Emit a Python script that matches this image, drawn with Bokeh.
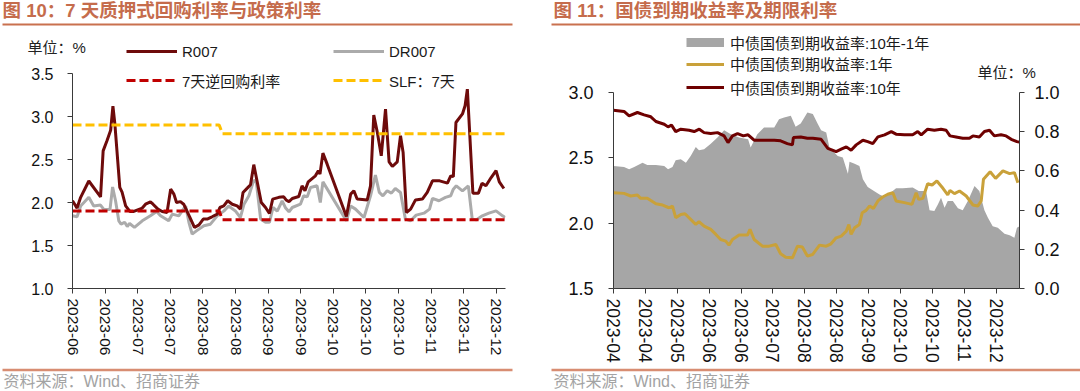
from bokeh.plotting import figure
from bokeh.models import (Range1d, LinearAxis, FixedTicker, PrintfTickFormatter,
                          Legend, LegendItem, Label, BoxAnnotation)
from bokeh.layouts import row, column
from bokeh.embed import file_html
from bokeh.resources import INLINE

# ---------------- data: chart 10 (x = trading-day index) ----------------
left_tick_labels = ["2023-06", "2023-06", "2023-07", "2023-07", "2023-08", "2023-08",
                    "2023-09", "2023-09", "2023-10", "2023-10", "2023-10", "2023-11",
                    "2023-11", "2023-12"]
left_x_end = 132.8

r007_x = [0, 1.4, 2.5, 5.0, 8.6, 9.4, 10.6, 11.7, 12.4, 13.0, 14.5, 15.2, 16.3, 17.6, 18.8,
          21.4, 22.4, 23.9, 24.7, 26.2, 27.5, 29.0, 30.1, 31.1, 31.9, 33.1, 34.1, 36.0, 37.4,
          38.8, 40.1, 41.3, 42.8, 44.4, 45.2, 46.4, 47.6, 49.0, 50.5, 51.5, 52.3, 53.6, 54.6,
          55.6, 56.6, 57.9, 59.2, 60.4, 61.4, 63.3, 64.8, 65.5, 66.4, 67.4, 69.4, 70.4, 71.3,
          72.3, 74.5, 75.4, 75.9, 76.8, 78.1, 84.0, 85.3, 86.3, 87.3, 90.4, 91.4, 92.4, 93.5,
          94.7, 96.0, 97.1, 98.1, 99.6, 100.6, 101.4, 102.4, 103.7, 105.2, 107.3, 108.8, 110.4,
          112.6, 115.0, 116.0, 116.8, 117.6, 119.6, 120.4, 121.1, 122.8, 124.5, 125.6, 126.8,
          128.4, 129.9, 130.9, 132.3]
r007 = [2.02, 1.935, 2.06, 2.25, 2.066, 2.60, 2.72, 2.84, 3.12, 2.91, 2.175, 2.12, 1.96, 1.896,
        1.896, 1.935, 1.98, 2.008, 1.98, 1.923, 1.896, 1.884, 2.155, 2.097, 2.0, 2.01, 1.98,
        1.826, 1.71, 1.74, 1.807, 1.807, 1.834, 1.865, 1.942, 1.96, 2.02, 1.98, 1.96, 1.923,
        2.117, 2.167, 2.206, 2.44, 2.25, 2.0, 1.942, 1.872, 2.039, 2.06, 2.066, 2.03, 2.01,
        2.047, 2.07, 2.194, 2.136, 2.24, 2.31, 2.37, 2.33, 2.574, 2.446, 1.838, 2.097, 2.136,
        2.04, 2.03, 2.194, 3.016, 2.814, 2.543, 3.086, 2.473, 2.419, 2.473, 2.776, 2.582,
        1.884, 1.923, 2.03, 2.04, 2.117, 2.252, 2.252, 2.225, 2.31, 2.30, 2.93, 3.03, 3.125,
        3.318, 2.109, 2.109, 2.225, 2.194, 2.29, 2.37, 2.24, 2.163]

dr007_x = [0, 1.4, 2.5, 5.0, 6.5, 8.6, 9.6, 11.5, 12.3, 13.2, 14.2, 14.9, 16.0, 16.8, 17.5,
           19.0, 21.4, 23.9, 25.8, 27.0, 29.5, 30.6, 32.6, 34.7, 35.7, 36.7, 38.0, 40.3, 42.3,
           44.4, 46.4, 47.9, 50.0, 51.5, 52.6, 54.1, 55.6, 56.4, 57.7, 59.2, 60.4, 61.5, 62.8,
           64.3, 65.3, 66.4, 67.4, 69.9, 70.9, 72.0, 73.0, 75.0, 75.6, 76.0, 76.8, 84.0, 85.3,
           86.8, 89.4, 91.4, 92.9, 94.1, 95.2, 96.5, 97.8, 99.0, 100.6, 102.1, 103.7, 105.4,
           107.8, 109.5, 110.4, 112.4, 114.4, 116.0, 116.8, 117.7, 119.6, 121.4, 122.6, 123.9,
           125.7, 127.7, 129.9, 131.9, 132.7]
dr007 = [1.845, 1.834, 1.96, 2.06, 1.96, 1.97, 1.92, 1.92, 2.18, 2.02, 1.787, 1.748, 1.77,
         1.72, 1.756, 1.71, 1.787, 1.845, 1.896, 1.845, 1.787, 1.865, 1.845, 1.96, 1.77, 1.632,
         1.67, 1.73, 1.748, 1.845, 1.90, 1.96, 1.90, 1.826, 1.98, 2.078, 2.26, 2.23, 1.807,
         1.77, 1.77, 1.942, 1.90, 2.02, 1.94, 1.892, 1.942, 1.98, 2.078, 2.066, 2.175, 2.194,
         2.078, 2.0, 2.24, 1.787, 1.96, 1.923, 1.826, 2.078, 2.318, 2.117, 2.078, 2.136, 2.109,
         2.163, 2.117, 1.806, 1.787, 1.853, 1.876, 1.923, 2.047, 2.02, 2.059, 2.078, 2.155,
         2.194, 2.136, 2.194, 1.806, 1.80, 1.845, 1.876, 1.903, 1.845, 1.826]

policy_x = [0, 45, 46, 132.8]
reverse_repo_7d = [1.9, 1.9, 1.8, 1.8]
slf_7d = [2.9, 2.9, 2.8, 2.8]

# ---------------- data: chart 11 ----------------
right_tick_labels = ["2023-04", "2023-04", "2023-05", "2023-06", "2023-06", "2023-07",
                     "2023-08", "2023-08", "2023-09", "2023-10", "2023-10", "2023-11",
                     "2023-12"]
right_x_end = 127.3

y10_x = [0, 3.3, 4.9, 7.5, 9.6, 11.7, 13.3, 15.9, 17.1, 18.2, 19.5, 21.1, 23.7, 25.3, 26.9,
         28.4, 30.5, 32.6, 34.7, 35.9, 37.3, 38.9, 40.7, 42.2, 44.1, 47.2, 50.4, 52.4, 54.5,
         56.1, 56.4, 58.7, 60.8, 62.5, 65.1, 67.2, 69.8, 71.4, 73.0, 74.5, 76.1, 78.2, 79.7,
         81.3, 82.9, 85.0, 87.1, 88.6, 91.2, 93.8, 95.4, 96.5, 98.5, 100.6, 102.7, 104.3,
         105.5, 107.4, 109.5, 111.6, 112.7, 114.7, 116.3, 117.9, 119.4, 121.5, 123.1, 124.7,
         126.5, 127.2]
y10 = [2.865, 2.855, 2.821, 2.847, 2.829, 2.814, 2.778, 2.757, 2.737, 2.75, 2.701, 2.719,
       2.711, 2.701, 2.719, 2.693, 2.686, 2.693, 2.668, 2.617, 2.668, 2.686, 2.668, 2.676,
       2.635, 2.635, 2.635, 2.63, 2.609, 2.599, 2.655, 2.66, 2.65, 2.65, 2.642, 2.573, 2.548,
       2.566, 2.584, 2.558, 2.599, 2.635, 2.624, 2.609, 2.66, 2.676, 2.701, 2.681, 2.676,
       2.676, 2.701, 2.676, 2.719, 2.711, 2.719, 2.711, 2.668, 2.66, 2.65, 2.65, 2.668, 2.66,
       2.701, 2.711, 2.668, 2.676, 2.668, 2.642, 2.624, 2.62]

y1_x = [0, 3.3, 5.4, 7.5, 8.5, 10.6, 13.3, 15.4, 17.4, 18.5, 19.5, 21.1, 22.4, 24.2, 25.8,
        26.8, 28.4, 30.5, 32.1, 33.6, 35.2, 36.2, 37.3, 39.4, 42.0, 42.8, 44.1, 46.7, 48.8,
        50.9, 52.4, 54.0, 56.1, 57.7, 59.2, 60.8, 62.4, 64.6, 66.7, 68.2, 69.8, 71.4, 73.0,
        73.8, 74.5, 75.6, 77.1, 78.0, 79.2, 80.3, 81.5, 82.9, 84.4, 86.0, 87.6, 88.6, 91.2,
        93.6, 94.9, 95.7, 97.0, 98.5, 99.9, 101.4, 103.3, 104.8, 105.5, 106.9, 108.5, 110.6,
        112.7, 114.2, 115.3, 116.0, 118.1, 119.8, 122.1, 124.2, 125.7, 126.8]
y1 = [2.233, 2.228, 2.208, 2.215, 2.19, 2.19, 2.149, 2.139, 2.118, 2.131, 2.042, 2.067, 2.072,
      2.029, 1.99, 2.011, 1.978, 1.952, 1.914, 1.875, 1.863, 1.832, 1.875, 1.909, 1.909,
      1.952, 1.875, 1.824, 1.824, 1.837, 1.766, 1.74, 1.735, 1.824, 1.817, 1.748, 1.76,
      1.832, 1.824, 1.842, 1.888, 1.901, 1.939, 1.99, 1.914, 1.965, 1.99, 2.08, 2.098, 2.131,
      2.113, 2.17, 2.20, 2.221, 2.233, 2.17, 2.157, 2.144, 2.233, 2.182, 2.19, 2.302, 2.292,
      2.323, 2.267, 2.216, 2.251, 2.226, 2.246, 2.208, 2.139, 2.131, 2.17, 2.336, 2.394,
      2.343, 2.40, 2.379, 2.387, 2.31]

spread_x = [0, 3.3, 4.9, 6.5, 9.1, 10.6, 13.3, 15.9, 17.1, 18.5, 19.5, 21.1, 22.7, 24.2, 25.8,
            26.8, 28.4, 30.5, 32.6, 34.7, 36.8, 39.4, 42.2, 43.0, 45.1, 47.2, 50.4, 51.9, 53.5,
            55.6, 57.1, 58.7, 60.8, 62.5, 64.1, 65.1, 66.7, 67.7, 70.3, 71.9, 73.5, 74.0, 75.6,
            77.1, 78.2, 79.7, 81.3, 83.4, 85.0, 86.5, 88.6, 90.7, 93.8, 95.7, 98.0, 99.1, 100.6,
            101.7, 102.7, 103.8, 104.8, 106.4, 108.0, 109.5, 111.1, 113.2, 114.7, 116.3, 117.4,
            118.9, 120.5, 122.6, 124.2, 125.7, 126.5, 127.3]
spread = [0.625, 0.620, 0.608, 0.620, 0.642, 0.630, 0.630, 0.625, 0.608, 0.620, 0.654, 0.659,
          0.642, 0.676, 0.722, 0.705, 0.710, 0.739, 0.770, 0.808, 0.787, 0.770, 0.762, 0.719,
          0.787, 0.821, 0.821, 0.864, 0.872, 0.881, 0.825, 0.842, 0.898, 0.89, 0.838, 0.808,
          0.796, 0.719, 0.676, 0.668, 0.586, 0.647, 0.637, 0.625, 0.557, 0.518, 0.501, 0.480,
          0.467, 0.484, 0.511, 0.511, 0.515, 0.497, 0.497, 0.399, 0.395, 0.429, 0.463, 0.412,
          0.446, 0.446, 0.409, 0.399, 0.446, 0.523, 0.497, 0.399, 0.361, 0.318, 0.310, 0.279,
          0.272, 0.259, 0.310, 0.318]

# ---------------- styling ----------------
MIX = "Liberation Sans, Noto Sans CJK SC"
LAT = "Liberation Sans"
TITLE_COLOR = "#C56C4C"
RULE_TOP = "#C9714F"
RULE_BOTTOM = "#D88D72"
AXIS_COLOR = "#3A3A3A"
C_R007, C_DR007, C_REPO, C_SLF = "#6E0B0B", "#ABABAB", "#C00000", "#FFC000"
C_SPREAD, C_1Y, C_10Y = "#A6A6A6", "#C9A13A", "#6E0000"
W, H = 1080, 391


def style_axis(ax, size, standoff):
    ax.axis_line_color = AXIS_COLOR
    ax.axis_line_width = 1
    ax.major_tick_line_color = AXIS_COLOR
    ax.major_tick_line_width = 1
    ax.major_tick_out = 5
    ax.major_tick_in = 0
    ax.minor_tick_line_color = None
    ax.major_label_text_font = LAT
    ax.major_label_text_font_size = size
    ax.major_label_text_color = "#111111"
    ax.major_label_standoff = standoff


def x_axis_ticks(ax, labels):
    pos = [10 * k for k in range(len(labels))]
    ax.ticker = FixedTicker(ticks=pos)
    ax.major_label_overrides = {p: lab for p, lab in zip(pos, labels)}
    ax.major_label_orientation = "vertical"


# ---------------- chart 10 ----------------
# frame: x 72..505, y 73..288
p1 = figure(width=540, height=H, x_range=Range1d(0, left_x_end), y_range=Range1d(1.0, 3.5),
            output_backend="svg", toolbar_location=None, min_border_left=72,
            min_border_right=35, min_border_top=73, min_border_bottom=103,
            outline_line_color=None)
p1.title.visible = False
p1.grid.visible = False
style_axis(p1.xaxis[0], "15.5px", 5)
style_axis(p1.yaxis[0], "16px", 14)
x_axis_ticks(p1.xaxis[0], left_tick_labels)
p1.yaxis[0].ticker = FixedTicker(ticks=[1.0, 1.5, 2.0, 2.5, 3.0, 3.5])
p1.yaxis[0].formatter = PrintfTickFormatter(format="%.1f")

p1.line(dr007_x, dr007, line_color=C_DR007, line_width=3)
p1.line(r007_x, r007, line_color=C_R007, line_width=3)
p1.line(policy_x, reverse_repo_7d, line_color=C_REPO, line_width=3, line_dash="9 4")
p1.line(policy_x, slf_7d, line_color=C_SLF, line_width=3, line_dash="9 4")

# ---------------- chart 11 ----------------
# frame: x 613..1019, y 73..288 ; axes bounded so the data area starts at y=92
y_top_left = 3.0 + 19 / (196 / 1.5)
y_top_right = 1.0 + 19 / 196
p2 = figure(width=540, height=H, x_range=Range1d(0, right_x_end),
            y_range=Range1d(1.5, y_top_left),
            output_backend="svg", toolbar_location=None, min_border_left=73,
            min_border_right=61, min_border_top=73, min_border_bottom=103,
            outline_line_color=None)
p2.title.visible = False
p2.grid.visible = False
p2.extra_y_ranges = {"spread": Range1d(0.0, y_top_right)}
right_axis = LinearAxis(y_range_name="spread", bounds=(0.0, 1.0))
p2.add_layout(right_axis, "right")
p2.yaxis[0].bounds = (1.5, 3.0)
style_axis(p2.xaxis[0], "17.5px", 5)
style_axis(p2.yaxis[0], "18px", 15)
style_axis(right_axis, "18px", 10)
x_axis_ticks(p2.xaxis[0], right_tick_labels)
p2.yaxis[0].ticker = FixedTicker(ticks=[1.5, 2.0, 2.5, 3.0])
p2.yaxis[0].formatter = PrintfTickFormatter(format="%.1f")
right_axis.ticker = FixedTicker(ticks=[0.0, 0.2, 0.4, 0.6, 0.8, 1.0])
right_axis.formatter = PrintfTickFormatter(format="%.1f")

p2.varea(x=spread_x, y1=0, y2=spread, y_range_name="spread", fill_color=C_SPREAD)
p2.line(y1_x, y1, line_color=C_1Y, line_width=3)
p2.line(y10_x, y10, line_color=C_10Y, line_width=3)

# ---------------- overlay: titles, legends, notes (page-pixel coordinates) ----------------
deco = figure(width=W, height=H, x_range=Range1d(0, W), y_range=Range1d(H, 0),
              output_backend="svg", toolbar_location=None, min_border=0,
              x_axis_location=None, y_axis_location=None, outline_line_color=None,
              background_fill_alpha=0, border_fill_alpha=0,
              styles={"margin-top": "-391px"})
deco.title.visible = False
deco.grid.visible = False
# legend sample renderers: same series, mapped to a range that lies outside the canvas
deco.extra_x_ranges = {"offscreen": Range1d(100000, 100001)}


def add_text(text, x, y, size, color, style="normal"):
    deco.add_layout(Label(x=x, y=y, text=text, text_font=MIX, text_font_size=size,
                          text_color=color, text_font_style=style,
                          text_baseline="middle", text_align="left"))


def add_rule(left, right, y, color, thick):
    deco.add_layout(BoxAnnotation(left=left, right=right, top=y - thick / 2,
                                  bottom=y + thick / 2, fill_color=color, fill_alpha=1,
                                  line_color=None))


def add_key(label, xs, ys, x, yc, glyph_w, standoff, **line_kw):
    sample = deco.line(x=xs, y=ys, x_range_name="offscreen", **line_kw)
    leg = Legend(items=[LegendItem(label=label, renderers=[sample])],
                 location=(x, H - yc - 12), orientation="horizontal",
                 padding=0, margin=0, spacing=0, border_line_color=None,
                 background_fill_alpha=0, glyph_width=glyph_w, glyph_height=24,
                 label_standoff=standoff, label_height=24, label_text_font=MIX,
                 label_text_font_size="15px", label_text_color="#1a1a1a",
                 label_text_baseline="middle")
    deco.add_layout(leg)


# chart 10 header / legend / footer
add_text("图 10：7 天质押式回购利率与政策利率", 2, 10, "18.5px", TITLE_COLOR, "bold")
add_rule(2, 512, 24, RULE_TOP, 2)
add_text("单位：%", 27, 47, "15px", "#222222")
add_key("R007", r007_x, r007, 126, 51, 51, 5, line_color=C_R007, line_width=3)
add_key("DR007", dr007_x, dr007, 333, 51, 51, 5, line_color=C_DR007, line_width=3)
add_key("7天逆回购利率", policy_x, reverse_repo_7d, 126, 80, 51, 5,
        line_color=C_REPO, line_width=3, line_dash="9 4")
add_key("SLF：7天", policy_x, slf_7d, 333, 80, 51, 5,
        line_color=C_SLF, line_width=3, line_dash="9 4")
add_rule(2, 512, 369.5, RULE_BOTTOM, 2.5)
add_text("资料来源：Wind、招商证券", 3, 381, "16px", "#A3A3A3")

# chart 11 header / legend / footer
add_text("图 11：国债到期收益率及期限利率", 553, 10, "18.5px", TITLE_COLOR, "bold")
add_rule(551, 1080, 24, RULE_TOP, 2)
add_key("中债国债到期收益率:10年-1年", spread_x, spread, 686, 42, 38, 6,
        line_color=C_SPREAD, line_width=9, line_cap="butt")
add_key("中债国债到期收益率:1年", y1_x, y1, 686, 63.5, 38, 6, line_color=C_1Y, line_width=3)
add_key("中债国债到期收益率:10年", y10_x, y10, 686, 87.3, 38, 6, line_color=C_10Y,
        line_width=3)
add_text("单位：%", 977, 72, "15px", "#222222")
add_rule(551, 1080, 369.5, RULE_BOTTOM, 2.5)
add_text("资料来源：Wind、招商证券", 553, 381, "16px", "#A3A3A3")

layout = column(row(p1, p2), deco)
open("out.html", "w").write(file_html(layout, INLINE))
